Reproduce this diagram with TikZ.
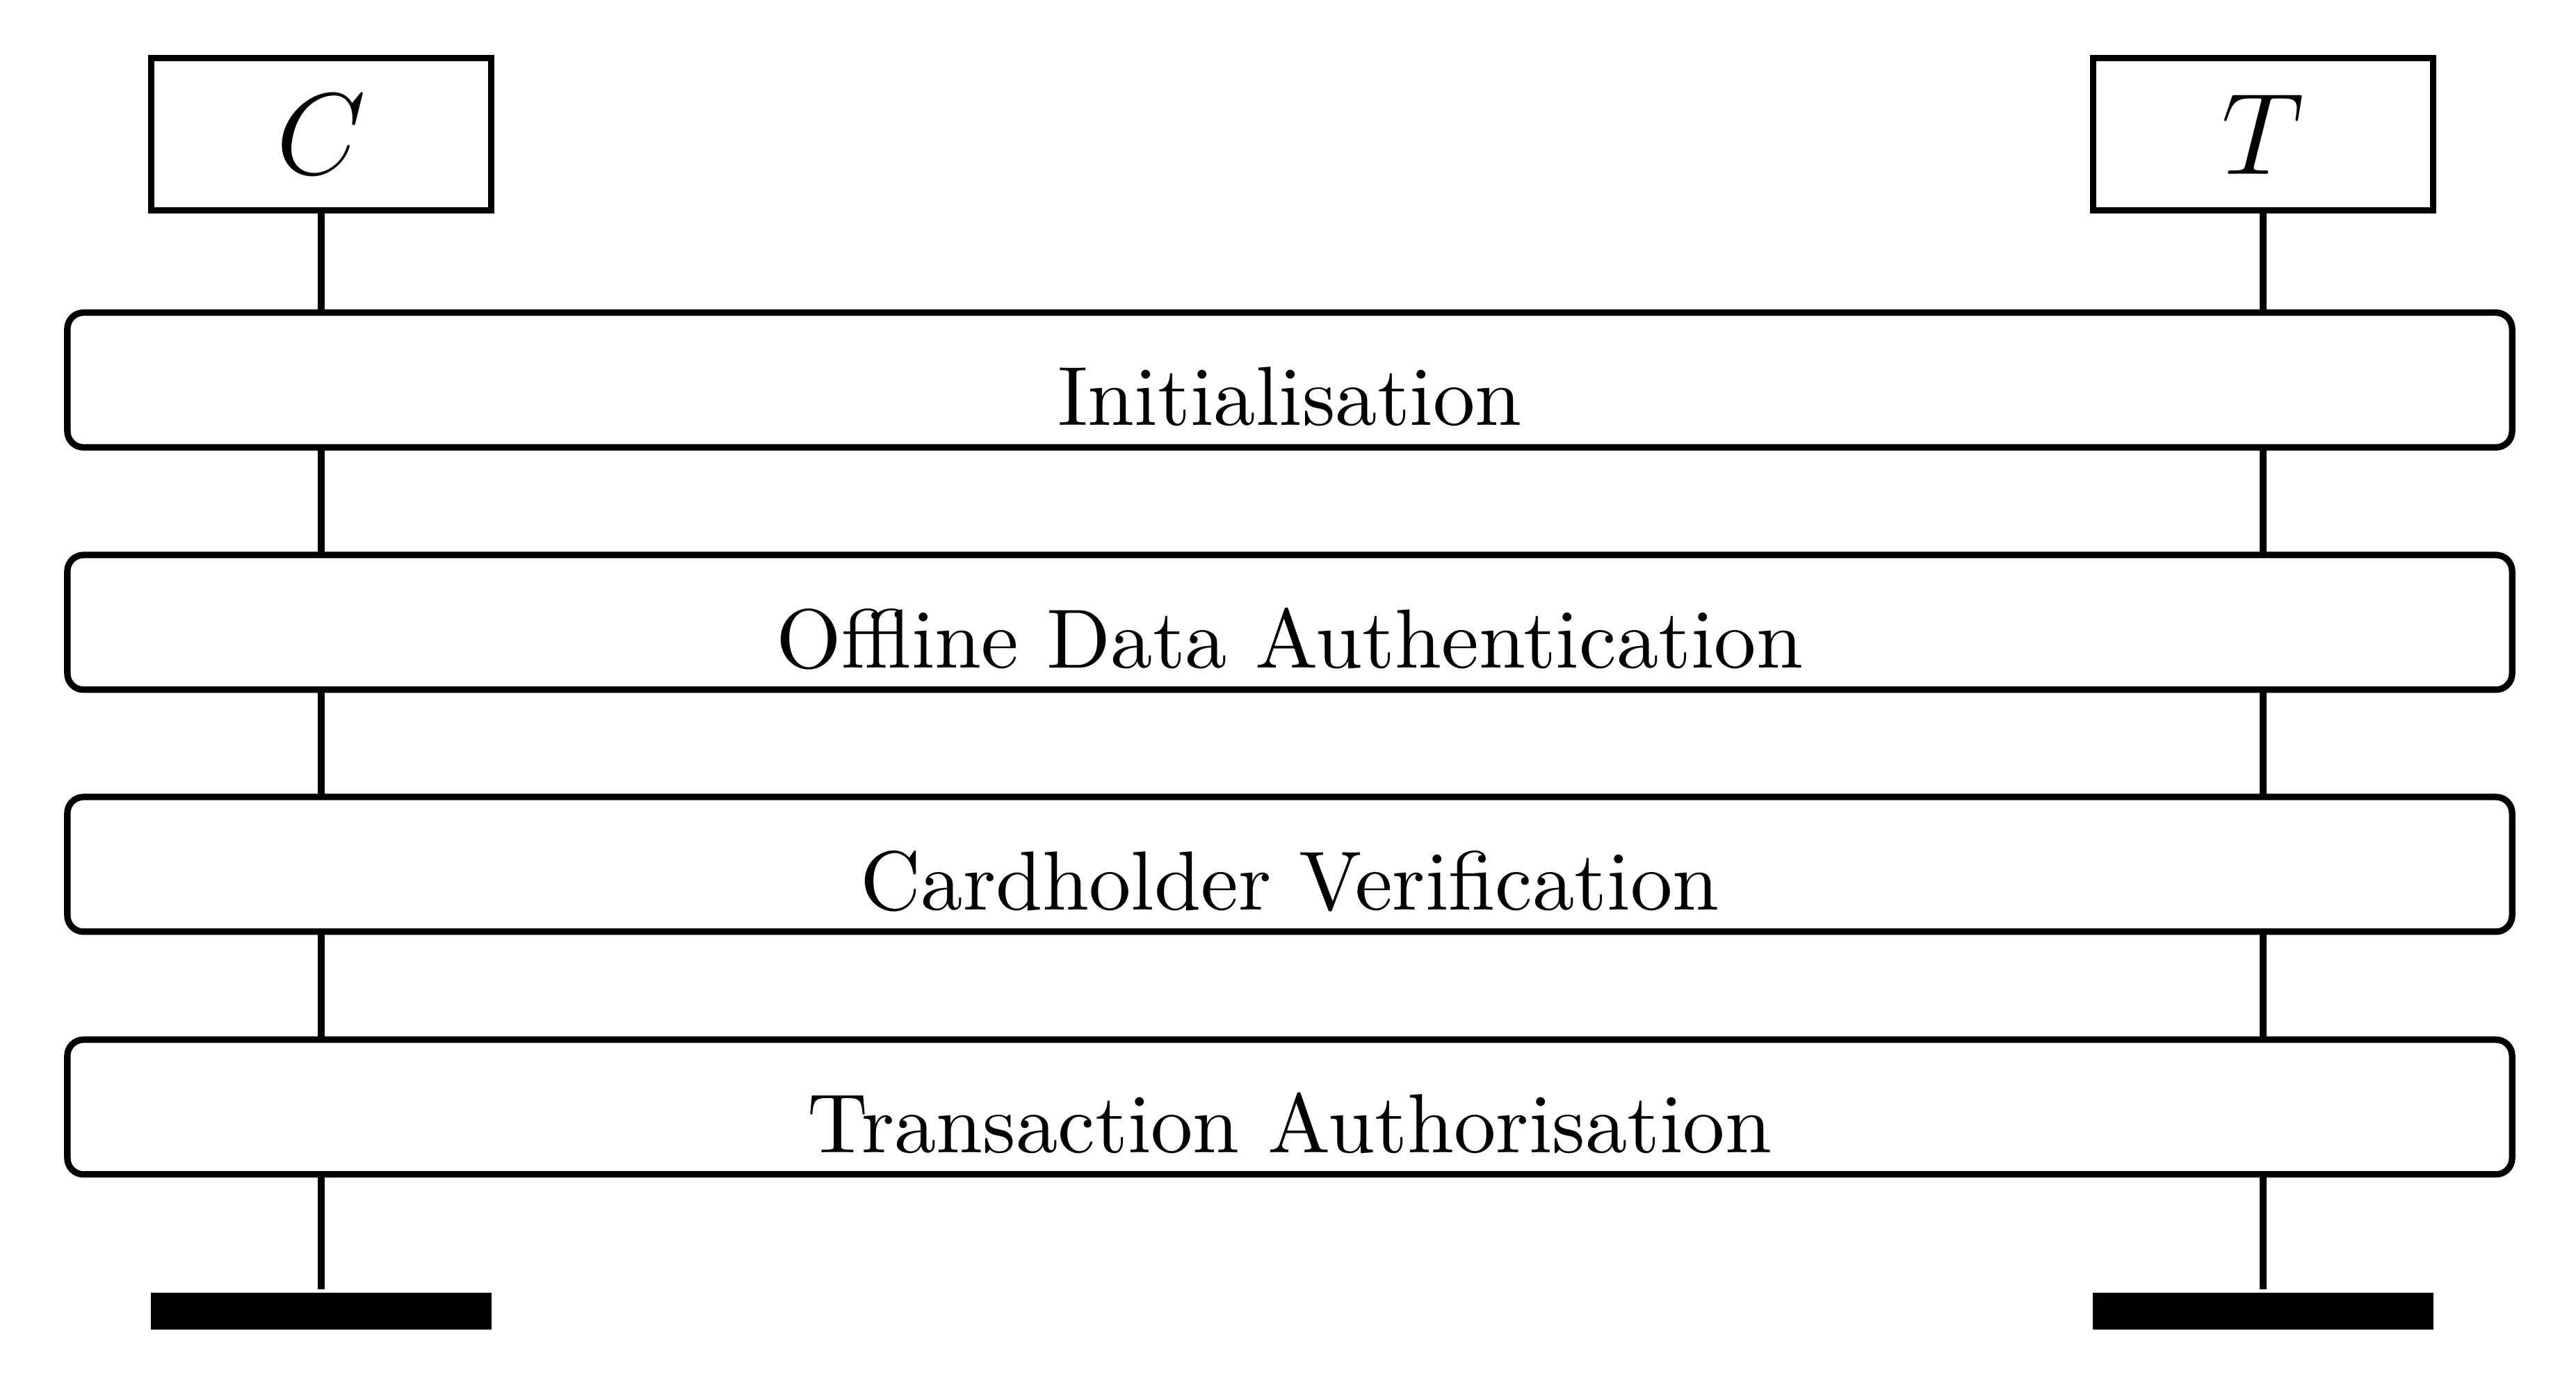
\documentclass[tikz,border=0pt]{standalone}
\usepackage{amsmath}
\usepackage{tikz}
\usetikzlibrary{positioning}

\begin{document}
\begin{tikzpicture}[x=8.62pt,y=8.62pt,thick,
  party/.style={draw,minimum width=42.1pt,minimum height=18.9pt,font=\Large},
  phase/.style={draw,fill=white,rounded corners=2pt,minimum width=303.1pt,minimum height=16.7pt,inner ysep=0pt,
    font=\fontsize{10.4pt}{12.5pt}\selectfont,text height=11.3pt,text depth=0pt},
  stopbar/.style={fill=black,minimum width=42.3pt,minimum height=4.6pt,inner sep=0pt}]

\useasboundingbox (0,0) rectangle (37.05,19.96);

% Card and terminal.
\node[party] (C) at (4.62,18.03) {$C$};
\node[party] (T) at (32.55,18.03) {$T$};

% End bars of the lifelines.
\node[stopbar] (Cend) at (4.62,1.105) {};
\node[stopbar] (Tend) at (32.55,1.105) {};

% Lifelines first, the phases are drawn over them.
\draw (C) -- (Cend);
\draw (T) -- (Tend);

% Protocol phases.
\node[phase] (init) at (18.55,14.495) {Initialisation};
\node[phase] (oda) at (18.55,11.01) {Offline Data Authentication};
\node[phase] (cv) at (18.55,7.53) {Cardholder Verification};
\node[phase] (auth) at (18.55,4.04) {Transaction Authorisation};

\end{tikzpicture}
\end{document}
